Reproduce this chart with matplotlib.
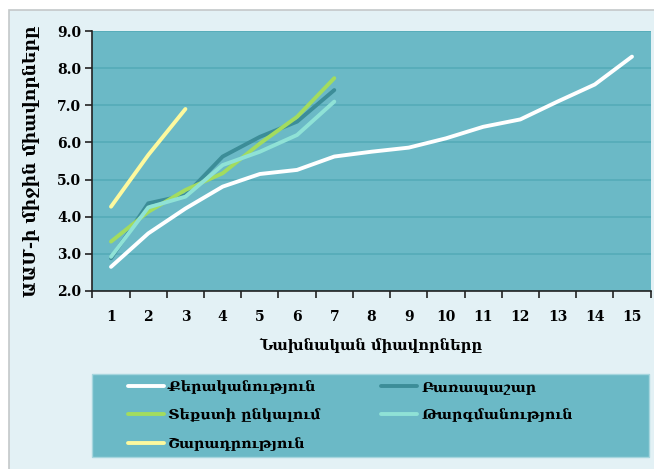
import matplotlib
matplotlib.use('Agg')
import matplotlib.pyplot as plt
from matplotlib.patches import Rectangle

# տվյալներ
levels = list(range(1, 16))
grammar = [2.65, 3.55, 4.22, 4.81, 5.15, 5.26, 5.62, 5.75, 5.86, 6.11, 6.42, 6.62, 7.10, 7.56, 8.31]
vocab = [2.88, 4.36, 4.58, 5.62, 6.15, 6.56, 7.41]
reading = [3.33, 4.13, 4.72, 5.17, 5.97, 6.69, 7.73]
translation = [2.92, 4.25, 4.54, 5.39, 5.75, 6.20, 7.10]
essay = [4.27, 5.66, 6.90]

names = ['Քերականություն', 'Բառապաշար', 'Տեքստի ընկալում',
         'Թարգմանություն', 'Շարադրություն']
y_ticks = [2.0, 3.0, 4.0, 5.0, 6.0, 7.0, 8.0, 9.0]

plt.rcParams['font.family'] = ['DejaVu Serif', 'DejaVu Sans']

W, H = 654, 469
teal = '#6bb9c6'
fig = plt.figure(figsize=(W / 100, H / 100), dpi=100)
fig.patch.set_facecolor('white')
# բաց կապույտ ֆոն
fig.patches.append(Rectangle((9 / W, -0.01), 1.0, 1 - 10 / H + 0.01,
                             transform=fig.transFigure, facecolor='#e3f1f5',
                             edgecolor='#c4c8c9', lw=1.2, zorder=-5))
# լեգենդի տուփ
fig.patches.append(Rectangle((92 / W, 1 - 457 / H), 557 / W, 83 / H,
                             transform=fig.transFigure, facecolor=teal,
                             edgecolor='#a6d6de', lw=1.0, zorder=-4))

ax = fig.add_axes([92.4 / W, 178 / H, 558.2 / W, 260 / H])
ax.set_facecolor(teal)

lw = 2.8
l1, = ax.plot(levels, grammar, color='white', lw=lw, solid_capstyle='round')
l2, = ax.plot(levels[:7], vocab, color='#3c8d98', lw=lw, solid_capstyle='round')
l3, = ax.plot(levels[:7], reading, color='#a3dc5e', lw=lw, solid_capstyle='round')
l4, = ax.plot(levels[:7], translation, color='#8fe2d6', lw=lw, solid_capstyle='round')
l5, = ax.plot(levels[:3], essay, color='#fdf99e', lw=lw, solid_capstyle='round')

ax.set_xlim(0.5, 15.5)
ax.set_ylim(2.0, 9.0)
ax.set_yticks(y_ticks)
ax.set_yticklabels([f'{v:.1f}' for v in y_ticks], fontsize=10, fontweight='bold')
ax.set_xticks(levels)
ax.set_xticklabels([str(v) for v in levels], fontsize=10, fontweight='bold')
ax.set_xticks([v + 0.5 for v in range(0, 16)], minor=True)
ax.tick_params(axis='x', which='major', length=0, pad=14)
ax.tick_params(axis='x', which='minor', length=5, width=1.2, color='#222222')
ax.tick_params(axis='y', length=5, width=1.2, color='#222222', pad=3)
ax.yaxis.grid(True, color='#55abb8', lw=1.2)
ax.set_axisbelow(True)
for s in ['top', 'right']:
    ax.spines[s].set_visible(False)
for s in ['left', 'bottom']:
    ax.spines[s].set_color('#222222')
    ax.spines[s].set_linewidth(1.2)

ax.set_xlabel('Նախնական միավորները', fontsize=10.5, fontweight='bold', labelpad=10)
ax.set_ylabel('ԱԱՄ-ի միջին միավորները', fontsize=12.3, fontweight='bold', labelpad=12)

leg_kw = dict(loc='upper left', frameon=False, prop={'size': 10.3, 'weight': 'bold'},
              handlelength=2.5, handletextpad=0.3, labelspacing=1.0,
              borderpad=0, borderaxespad=0)
leg1 = fig.legend([l1, l3, l5], [names[0], names[2], names[4]],
                  bbox_to_anchor=(128 / W, 1 - 380 / H), **leg_kw)
leg2 = fig.legend([l2, l4], [names[1], names[3]],
                  bbox_to_anchor=(381 / W, 1 - 380 / H), **leg_kw)

plt.savefig('out.png', dpi=100)
